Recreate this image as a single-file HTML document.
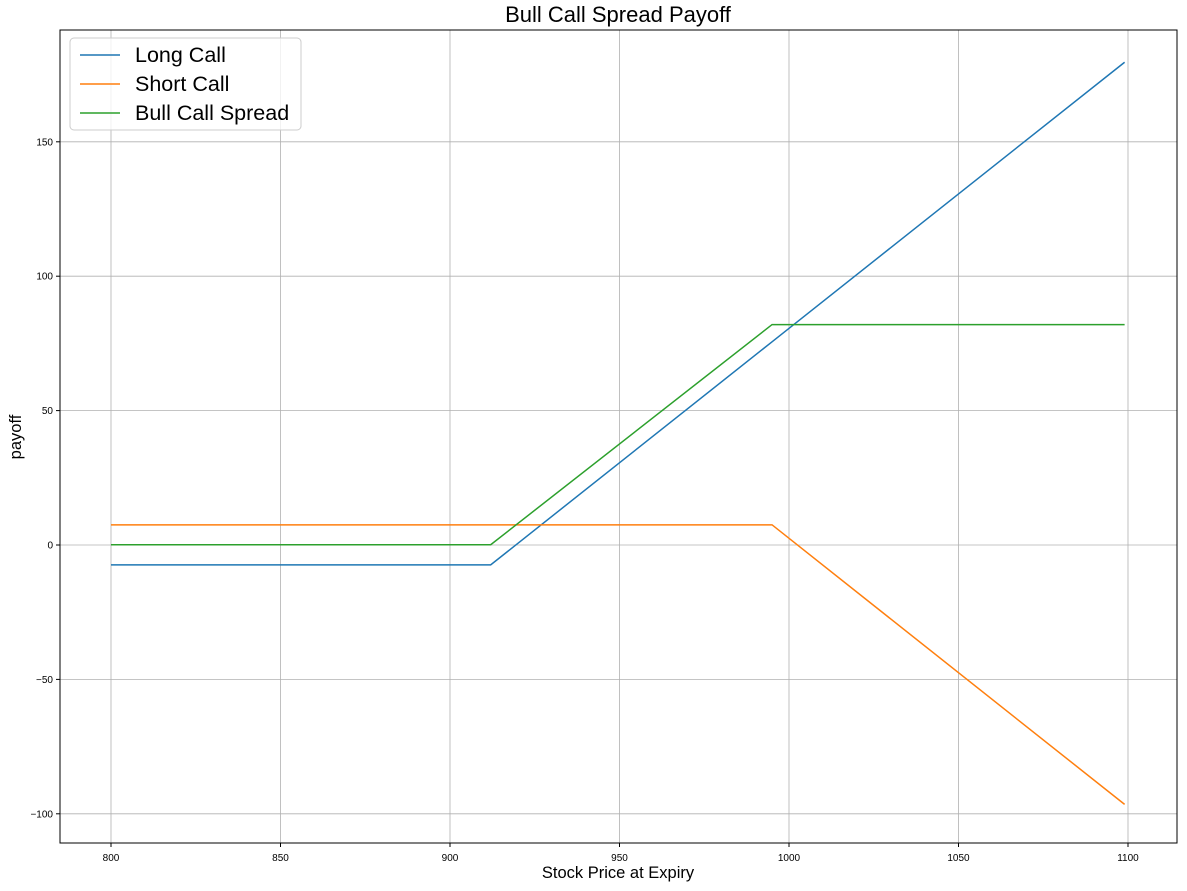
<!DOCTYPE html>
<html><head><meta charset="utf-8"><style>
body{margin:0;background:#fff;}
svg text{font-family:"Liberation Sans",sans-serif;}
</style></head><body>
<svg id="chart" width="1187" height="886" xmlns="http://www.w3.org/2000/svg">
<rect width="1187" height="886" fill="#fff"/>
<g id="grid"></g>
<g id="ticks"></g>
<g id="series"></g>
<rect x="60" y="30" width="1117" height="813" fill="none" stroke="#000" stroke-width="1"/>
<text x="618" y="22" text-anchor="middle" font-size="22">Bull Call Spread Payoff</text>
<text x="618" y="878" text-anchor="middle" font-size="16.5">Stock Price at Expiry</text>
<text x="21" y="437" text-anchor="middle" font-size="16.5" transform="rotate(-90 21 437)">payoff</text>
<g id="legend">
<rect x="70" y="38" width="231" height="92" rx="4" fill="#fff" fill-opacity="0.8" stroke="#ccc"/>
</g>
</svg>
<script>
const xPrices = [800, 912, 995, 1099];
const longCall = [-7.4, -7.4, 75.6, 179.6];
const shortCall = [7.5, 7.5, 7.5, -96.5];
const bullSpread = [0.1, 0.1, 82, 82];
const seriesNames = ["Long Call", "Short Call", "Bull Call Spread"];
const xTicks = [800, 850, 900, 950, 1000, 1050, 1100];
const yTicks = [-100, -50, 0, 50, 100, 150];
const yTickLabels = ["\u2212100", "\u221250", "0", "50", "100", "150"];

const NS = "http://www.w3.org/2000/svg";
const X0 = 111, XS = 1017 / 300;
const Y0 = 545, YS = 2.688;
function xScale(v){ return X0 + (v - 800) * XS; }
function yScale(v){ return Y0 - v * YS; }
function mk(tag, attrs, parent){
  const e = document.createElementNS(NS, tag);
  for (const k in attrs) e.setAttribute(k, attrs[k]);
  parent.appendChild(e); return e;
}
const grid = document.getElementById("grid"), ticks = document.getElementById("ticks");
xTicks.forEach(t => {
  const x = xScale(t);
  const g = mk("line", {x1:x, x2:x, y1:30, y2:843, stroke:"#b0b0b0", "stroke-width":0.8}, grid);
  
  
  mk("line", {x1:x, x2:x, y1:843, y2:847, stroke:"#000"}, ticks);
  const tx = mk("text", {x:x, y:861, "text-anchor":"middle", "font-size":10}, ticks);
  tx.textContent = t;
  
  
});
yTicks.forEach((t, i) => {
  const y = yScale(t);
  const g = mk("line", {x1:60, x2:1177, y1:y, y2:y, stroke:"#b0b0b0", "stroke-width":0.8}, grid);
  
  
  mk("line", {x1:56, x2:60, y1:y, y2:y, stroke:"#000"}, ticks);
  const tx = mk("text", {x:53, y:y + 3.5, "text-anchor":"end", "font-size":10}, ticks);
  tx.textContent = yTickLabels[i];
  
  
});
const colors = ["#1f77b4", "#ff7f0e", "#2ca02c"];
const data = [longCall, shortCall, bullSpread];
const sg = document.getElementById("series");
data.forEach((arr, i) => {
  const pts = arr.map((v, j) => xScale(xPrices[j]) + "," + yScale(v)).join(" ");
  const p = mk("polyline", {points:pts, fill:"none", stroke:colors[i], "stroke-width":1.5}, sg);
  
  
});
const lg = document.getElementById("legend");
seriesNames.forEach((n, i) => {
  const y = 55 + i * 29;
  const l = mk("line", {x1:80, x2:120, y1:y, y2:y, stroke:colors[i], "stroke-width":1.5}, lg);
  
  
  const t = mk("text", {x:135, y:y + 7, "font-size":21.5}, lg);
  t.textContent = n;
  
  
});
</script>
</body></html>
